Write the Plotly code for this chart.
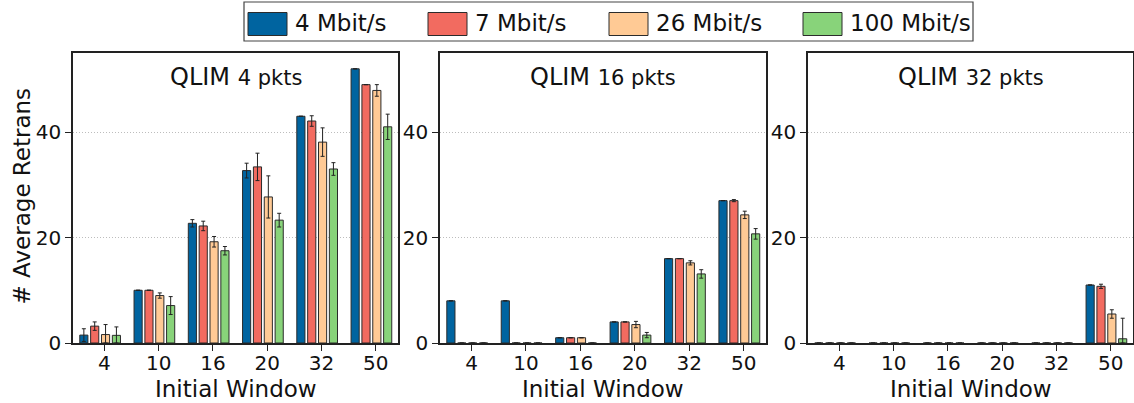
import plotly.graph_objects as go

# ---- data -------------------------------------------------------------
windows = ["4", "10", "16", "20", "32", "50"]
rates = ["4 Mbit/s", "7 Mbit/s", "26 Mbit/s", "100 Mbit/s"]
colors = ["#0064a0", "#f26b60", "#ffca95", "#88d37a"]
panel_titles = ["QLIM", "QLIM", "QLIM"]
panel_sizes = ["4 pkts", "16 pkts", "32 pkts"]

# mean retransmissions per queue limit, one list per link rate
qlim4_mean = [
    [1.5, 10.0, 22.7, 32.7, 43.0, 52.0],
    [3.2, 10.0, 22.2, 33.4, 42.1, 49.0],
    [1.6, 9.0, 19.2, 27.7, 38.1, 47.9],
    [1.45, 7.1, 17.5, 23.3, 33.0, 41.0],
]
qlim4_err = [
    [1.2, 0.0, 0.7, 1.4, 0.0, 0.0],
    [0.8, 0.0, 0.9, 2.6, 1.0, 0.0],
    [1.9, 0.5, 1.0, 4.0, 2.7, 1.1],
    [1.6, 1.7, 0.8, 1.3, 1.2, 2.4],
]
qlim16_mean = [
    [8.0, 8.0, 1.0, 4.0, 16.0, 27.0],
    [0.0, 0.0, 1.0, 4.0, 16.0, 27.0],
    [0.0, 0.0, 1.0, 3.5, 15.2, 24.3],
    [0.0, 0.0, 0.0, 1.5, 13.1, 20.7],
]
qlim16_err = [
    [0.0, 0.0, 0.0, 0.0, 0.0, 0.0],
    [0.0, 0.0, 0.0, 0.0, 0.0, 0.2],
    [0.0, 0.0, 0.0, 0.6, 0.4, 0.7],
    [0.0, 0.0, 0.0, 0.5, 0.8, 1.0],
]
qlim32_mean = [
    [0.0, 0.0, 0.0, 0.0, 0.0, 11.0],
    [0.0, 0.0, 0.0, 0.0, 0.0, 10.75],
    [0.0, 0.0, 0.0, 0.0, 0.0, 5.5],
    [0.0, 0.0, 0.0, 0.0, 0.0, 0.8],
]
qlim32_err = [
    [0.0, 0.0, 0.0, 0.0, 0.0, 0.0],
    [0.0, 0.0, 0.0, 0.0, 0.0, 0.4],
    [0.0, 0.0, 0.0, 0.0, 0.0, 0.8],
    [0.0, 0.0, 0.0, 0.0, 0.0, 3.9],
]
panels = [(qlim4_mean, qlim4_err), (qlim16_mean, qlim16_err), (qlim32_mean, qlim32_err)]

# ---- layout helpers ---------------------------------------------------
W, H = 1134, 403
FONT = "DejaVu Sans"
px = lambda x: x / W
py = lambda y: 1 - y / H

panel_px = [(73, 398), (440, 766), (808, 1133)]
plot_top, plot_bottom = 53, 343
bar_w = 0.15
bar_step = 0.2
bar_start = -0.38

fig = go.Figure()

for p, (means, errs) in enumerate(panels):
    xa = "x" if p == 0 else f"x{p + 1}"
    ya = "y" if p == 0 else f"y{p + 1}"
    for s, rate in enumerate(rates):
        xs = [i + bar_start + s * bar_step for i in range(len(windows))]
        vals = means[s]
        up = errs[s]
        down = [min(e, v) for e, v in zip(up, vals)]
        fig.add_trace(go.Bar(
            x=xs, y=vals, width=bar_w, name=rate, showlegend=False,
            marker=dict(color=colors[s], line=dict(color="#2b2b2b", width=1)),
            error_y=dict(type="data", array=up, arrayminus=down, symmetric=False,
                         color="#222222", thickness=1, width=2),
            xaxis=xa, yaxis=ya,
        ))

axis_common = dict(showline=True, mirror=True, linecolor="#222222", linewidth=1.5,
                   ticks="outside", ticklen=6, tickwidth=1.2, tickcolor="#222222",
                   tickfont=dict(family=FONT, size=20, color="#111111"),
                   automargin=False, zeroline=False)

layout = dict(
    width=W, height=H, margin=dict(l=0, r=0, t=0, b=0),
    paper_bgcolor="white", plot_bgcolor="white",
    barmode="overlay", showlegend=False,
    font=dict(family=FONT, color="#111111"),
)
for p, (l, r) in enumerate(panel_px):
    suffix = "" if p == 0 else str(p + 1)
    layout["xaxis" + suffix] = dict(
        axis_common, domain=[px(l), px(r)], range=[-0.58, 5.41],
        tickvals=list(range(len(windows))), ticktext=windows,
        showgrid=False, anchor="y" + suffix, ticklabelstandoff=-5,
    )
    layout["yaxis" + suffix] = dict(
        axis_common, domain=[py(plot_bottom), py(plot_top)], range=[0, 55],
        tickvals=[0, 20, 40], showgrid=True, gridcolor="#bdbdbd", gridwidth=1,
        griddash="1px,2px", anchor="x" + suffix,
    )
fig.update_layout(**layout)

annotations = []
for p, (l, r) in enumerate(panel_px):
    cx = px((l + r) / 2)
    annotations.append(dict(
        x=cx, y=py(77), xref="paper", yref="paper", showarrow=False,
        xanchor="center", yanchor="middle",
        text=f"<span style='font-size:24px'>{panel_titles[p]}</span>&nbsp;&nbsp;"
             f"<span style='font-size:21px'>{panel_sizes[p]}</span>",
        font=dict(family=FONT, color="#111111"),
    ))
    annotations.append(dict(
        x=cx, y=py(389), xref="paper", yref="paper", showarrow=False,
        xanchor="center", yanchor="middle", text="Initial Window",
        font=dict(family=FONT, size=23, color="#111111"),
    ))
annotations.append(dict(
    x=px(21.5), y=py(196), xref="paper", yref="paper", showarrow=False,
    xanchor="center", yanchor="middle", textangle=-90, text="# Average Retrans",
    font=dict(family=FONT, size=23, color="#111111"),
))

# legend drawn as swatches + labels across the top
shapes = [dict(type="rect", xref="paper", yref="paper",
               x0=px(244), x1=px(973), y0=py(41), y1=py(2),
               line=dict(color="#444444", width=1.2), fillcolor="white", layer="above")]
legend_x = [248, 428, 609, 803]
for s, rate in enumerate(rates):
    x0 = legend_x[s]
    shapes.append(dict(type="rect", xref="paper", yref="paper",
                       x0=px(x0), x1=px(x0 + 39), y0=py(35.5), y1=py(12.5),
                       line=dict(color="#2b2b2b", width=1), fillcolor=colors[s],
                       layer="above"))
    annotations.append(dict(
        x=px(x0 + 45), y=py(23), xref="paper", yref="paper", showarrow=False,
        xanchor="left", yanchor="middle", text=rate,
        font=dict(family=FONT, size=23, color="#111111"),
    ))

fig.update_layout(annotations=annotations, shapes=shapes)
fig.write_html("out.html")
